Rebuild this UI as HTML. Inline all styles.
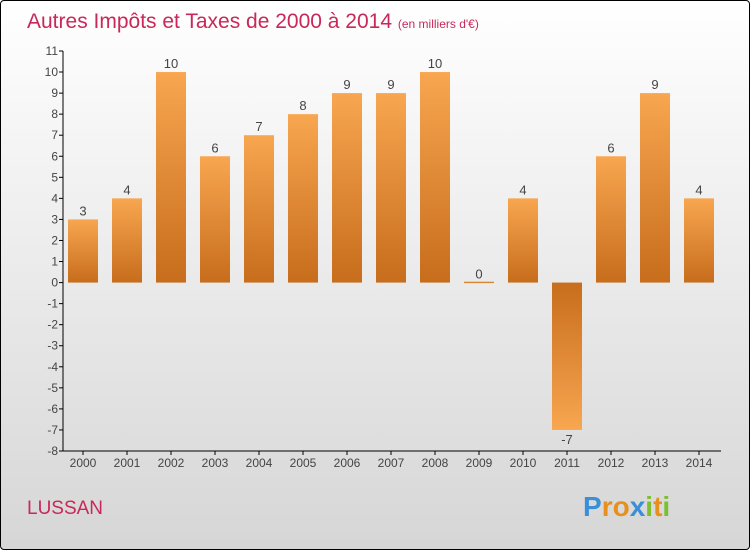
<!DOCTYPE html>
<html><head><meta charset="utf-8"><style>
body{margin:0;}
#wrap{position:relative;width:748px;height:548px;border:1px solid #000;border-radius:4px;background:linear-gradient(#ffffff,#d6d6d6);font-family:"Liberation Sans",sans-serif;overflow:hidden}
</style></head><body>
<div id="wrap">
<svg id="svg" width="748" height="548">
<defs>
<linearGradient id="gp" x1="0" y1="0" x2="0" y2="1"><stop offset="0" stop-color="#f8a650"/><stop offset="1" stop-color="#c76d1c"/></linearGradient>
<linearGradient id="gn" x1="0" y1="0" x2="0" y2="1"><stop offset="0" stop-color="#c76d1c"/><stop offset="1" stop-color="#f8a650"/></linearGradient>
</defs>
<text x="26" y="27" font-size="21" fill="#c8285a">Autres Impôts et Taxes de 2000 à 2014 <tspan font-size="12">(en milliers d'€)</tspan></text>
<text x="26" y="513" font-size="19" fill="#c8285a">LUSSAN</text>
<g font-size="28" font-weight="bold">
<text x="582" y="515"><tspan fill="#3a8fd8">P</tspan><tspan fill="#e8901e">r</tspan><tspan fill="#e8901e">o</tspan><tspan fill="#3a8fd8">x</tspan><tspan fill="#7cc030">i</tspan><tspan fill="#e8901e">t</tspan><tspan fill="#7cc030">i</tspan></text>
</g>
<g id="g"></g>
</svg>
</div>
<script>
const categories=["2000","2001","2002","2003","2004","2005","2006","2007","2008","2009","2010","2011","2012","2013","2014"];
const values=[3,4,10,6,7,8,9,9,10,0,4,-7,6,9,4];
const yTicks=[11,10,9,8,7,6,5,4,3,2,1,0,-1,-2,-3,-4,-5,-6,-7,-8];
const yMin=-8,yMax=11,yTop=50,yBot=450,axisX=62;
const y=v=>yBot-(v-yMin)/(yMax-yMin)*(yBot-yTop);
const x=i=>82+i*44;
const g=document.getElementById('g');
const NS="http://www.w3.org/2000/svg";
function mk(t,a){const e=document.createElementNS(NS,t);for(const k in a)e.setAttribute(k,a[k]);g.appendChild(e);return e;}
let e=mk('line',{x1:axisX,y1:yTop,x2:axisX,y2:yBot,stroke:'#000'});


e=mk('line',{x1:axisX,y1:yBot,x2:720,y2:yBot,stroke:'#000'});


yTicks.forEach(v=>{
 mk('line',{x1:axisX-4,y1:y(v),x2:axisX,y2:y(v),stroke:'#000'});
 const t=mk('text',{x:axisX-5,y:y(v)+4,'font-size':12,'text-anchor':'end',fill:'#444'});
 t.textContent=v;
 
 
});
categories.forEach((c,i)=>{
 const v=values[i],cx=x(i);
 mk('line',{x1:cx,y1:yBot,x2:cx,y2:yBot+4,stroke:'#000'});
 const t=mk('text',{x:cx,y:yBot+16,'font-size':12,'text-anchor':'middle',fill:'#444'});
 t.textContent=c;
 
 
 const y0=y(0),yv=y(v);
 const h=Math.max(Math.abs(yv-y0),1.5);
 const r=mk('rect',{x:cx-15,y:v>=0?(v==0?y0-1:yv):y0,width:30,height:h,fill:v>=0?'url(#gp)':'url(#gn)'});
 
 
 const l=mk('text',{x:cx,y:v>=0?yv-4:yv+14,'font-size':13,'text-anchor':'middle',fill:'#444'});
 l.textContent=v;
 
 
});
</script>
</body></html>
